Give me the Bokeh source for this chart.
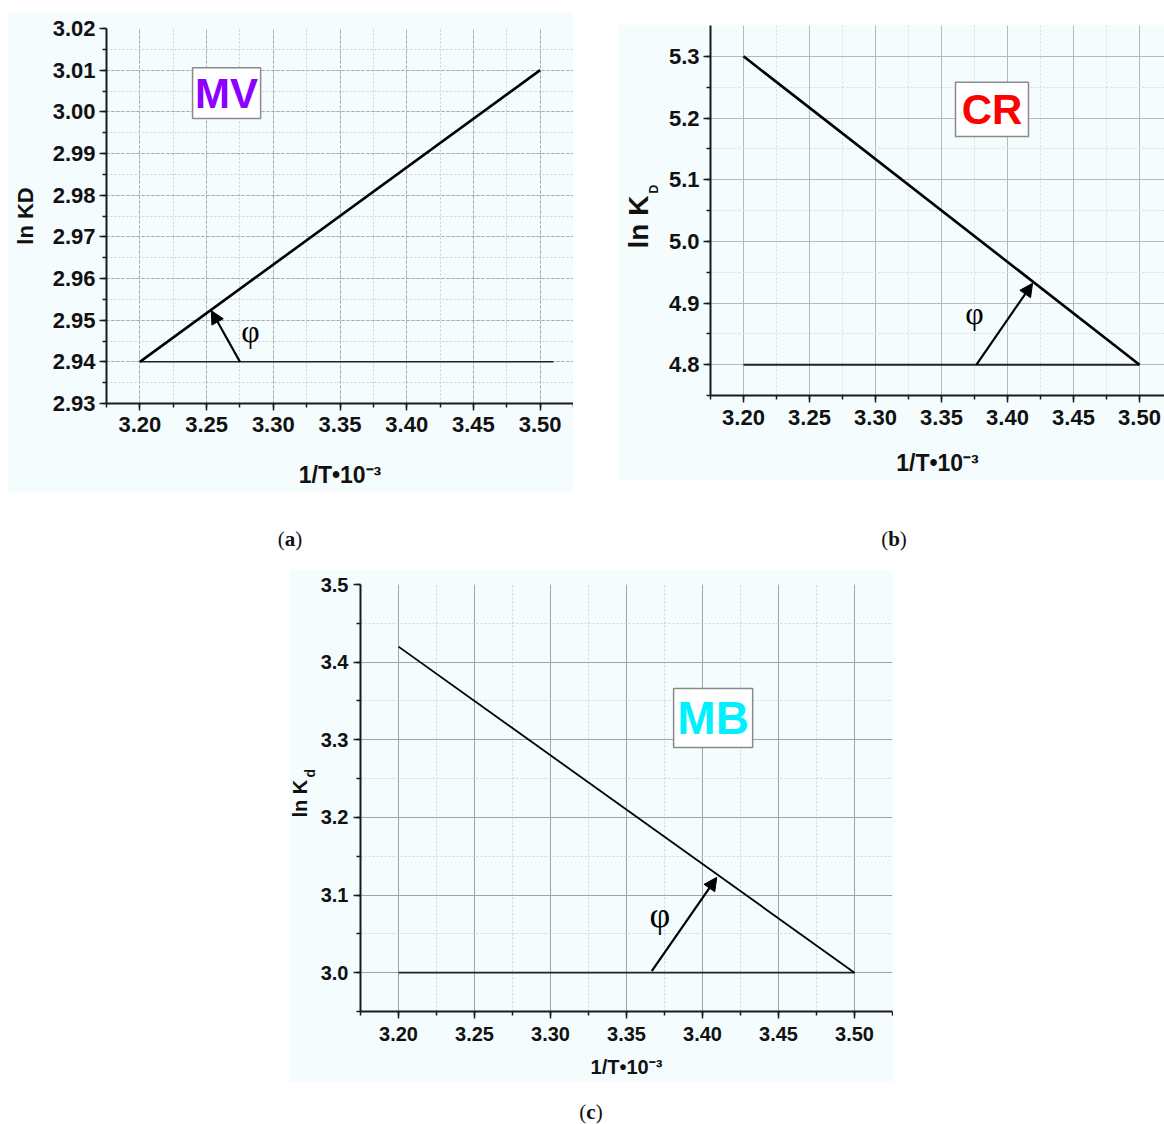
import math
from bokeh.plotting import figure
from bokeh.models import (Range1d, SingleIntervalTicker, NumeralTickFormatter, Title,
                          Arrow, NormalHead, Div, Spacer)
from bokeh.layouts import row, column
from bokeh.embed import file_html
from bokeh.resources import INLINE
from bokeh.core.properties import value

# ---------------- data ----------------
inv_T = [3.20, 3.50]                 # 1/T * 10^-3 end points
mv_lnkd = [2.94, 3.01]               # (a) MV
mv_base_x = [3.20, 3.51]
mv_base_y = [2.94, 2.94]
cr_lnkd = [5.30, 4.80]               # (b) CR
cr_base_x = [3.20, 3.50]
cr_base_y = [4.80, 4.80]
mb_lnkd = [3.42, 3.00]               # (c) MB
mb_base_x = [3.20, 3.50]
mb_base_y = [3.00, 3.00]

BG = "#f4fcfe"
SANS = "Liberation Sans"
SERIF = "Liberation Serif"


def make_panel(c):
    L, R, T, B = c["frame"]
    ox, oy = c["origin"]
    W, H = c["size"]
    x0, x1 = c["xr"]
    y0, y1 = c["yr"]

    p = figure(width=W, height=H, x_range=Range1d(x0, x1), y_range=Range1d(y0, y1),
               output_backend="svg", toolbar_location=None,
               min_border_left=L - ox, min_border_right=ox + W - R,
               min_border_top=T - oy, min_border_bottom=oy + H - B)
    p.background_fill_color = BG
    p.border_fill_color = BG
    p.outline_line_color = None

    p.xaxis.ticker = SingleIntervalTicker(interval=0.05, num_minor_ticks=2)
    p.yaxis.ticker = SingleIntervalTicker(interval=c["ystep"], num_minor_ticks=2)
    p.xaxis.formatter = NumeralTickFormatter(format="0.00")
    p.yaxis.formatter = NumeralTickFormatter(format=c["yfmt"])
    for ax in (p.xaxis, p.yaxis):
        ax.axis_line_width = 2
        ax.axis_line_color = "#1a1a1a"
        ax.major_tick_line_color = "#1a1a1a"
        ax.minor_tick_line_color = "#1a1a1a"
        ax.major_tick_line_width = 1.5
        ax.minor_tick_line_width = 1.5
        ax.major_tick_in = 0
        ax.major_tick_out = 7
        ax.minor_tick_in = 0
        ax.minor_tick_out = 4
        ax.major_label_text_font = SANS
        ax.major_label_text_font_style = "bold"
        ax.major_label_text_font_size = c["tick_fs"]
        ax.major_label_text_color = "#111111"
        ax.axis_label_text_font = SANS
        ax.axis_label_text_font_style = "bold"
        ax.axis_label_text_color = "#111111"
    p.xaxis.major_label_standoff = c["xstand"]
    p.yaxis.major_label_standoff = c["ystand"]

    p.xaxis.axis_label = c["xlabel"]
    p.xaxis.axis_label_text_font_size = c["xlab_fs"]
    p.xaxis.axis_label_standoff = c["xlab_so"]
    if c["ylabel"]:
        p.yaxis.axis_label = c["ylabel"]
        p.yaxis.axis_label_text_font_size = c["ylab_fs"]
        p.yaxis.axis_label_standoff = c["ylab_so"]

    # y-label pieces as side titles (inner first); offset measured up from frame bottom
    for (txt, fs, off, so) in c["ytitles"]:
        p.add_layout(Title(text=txt, align="left", offset=off, standoff=so,
                           text_font=SANS, text_font_style="bold", text_font_size=fs,
                           text_color="#111111"), "left")

    for g in (p.xgrid, p.ygrid):
        g.grid_line_color = c["grid_col"]
        g.grid_line_width = 1
        g.grid_line_dash = c["grid_dash"]
        g.minor_grid_line_color = c["mgrid_col"]
        g.minor_grid_line_width = 1
        g.minor_grid_line_dash = c["mgrid_dash"]

    # lines
    p.line(c["base_x"], c["base_y"], line_color="#222222", line_width=c["base_w"])
    p.line(inv_T, c["series"], line_color="#000000", line_width=c["main_w"])

    # arrow
    ax_, ay_, bx_, by_ = c["arrow"]
    p.add_layout(Arrow(x_start=ax_, y_start=ay_, x_end=bx_, y_end=by_,
                       line_width=2.2, line_color="black",
                       end=NormalHead(size=13, fill_color="black", line_color="black",
                                      line_width=1)))
    fx, fy = c["phi"]
    p.text(x=[fx], y=[fy], text=["\u03c6"], text_font=value(SERIF),
           text_font_size=c["phi_fs"], text_color="black",
           text_align="center", text_baseline="middle")

    # name box
    bl, br, bb, bt = c["box"]
    p.quad(left=[bl], right=[br], bottom=[bb], top=[bt], fill_color="white",
           line_color="#8a8a8a", line_width=1.5)
    p.text(x=[(bl + br) / 2], y=[(bb + bt) / 2], text=[c["name"]], text_font=value(SANS),
           text_font_style="bold", text_font_size=c["name_fs"], text_color=c["name_col"],
           text_align="center", text_baseline="middle")
    return p


SUP = "1/T\u202210\u207b\u00b3"

cfg_a = dict(origin=(7, 12), size=(566, 480), frame=(106, 573, 28, 403),
             xr=(3.175, 3.525), yr=(2.93, 3.02), ystep=0.01, yfmt="0.00",
             tick_fs="22px", xstand=6, ystand=4,
             xlabel=SUP, xlab_fs="23px", xlab_so=27,
             ylabel="ln KD", ylab_fs="22px", ylab_so=12, ytitles=[],
             grid_col="#a8a8a8", grid_dash="3 2", mgrid_col="#cfcfcf", mgrid_dash="2 2",
             base_x=mv_base_x, base_y=mv_base_y, series=mv_lnkd, base_w=1.5, main_w=2.6,
             arrow=(3.275, 2.94, 3.2535, 2.9523), phi=(3.283, 2.9475), phi_fs="32px",
             box=(3.2395, 3.2905, 2.9984, 3.0106), name="MV", name_fs="42px",
             name_col="#8b00ff")

cfg_b = dict(origin=(618, 24), size=(546, 456), frame=(710, 1164, 25, 395),
             xr=(3.175, 3.175 + 454 / 1320), yr=(4.75, 5.35), ystep=0.1, yfmt="0.0",
             tick_fs="22px", xstand=7, ystand=4,
             xlabel=SUP, xlab_fs="23px", xlab_so=22,
             ylabel=None, ylab_fs=None, ylab_so=None,
             ytitles=[("D", "12px", 202, 10), ("ln K", "28px", 147, -28)],
             grid_col="#b8b8b8", grid_dash="solid", mgrid_col="#dadada", mgrid_dash="2 2",
             base_x=cr_base_x, base_y=cr_base_y, series=cr_lnkd, base_w=2.0, main_w=2.6,
             arrow=(3.3765, 4.80, 3.419, 4.932), phi=(3.375, 4.884), phi_fs="32px",
             box=(3.3606, 3.4159, 5.170, 5.258), name="CR", name_fs="42px",
             name_col="#ff0000")

cfg_c = dict(origin=(289, 570), size=(604, 512), frame=(360, 892, 584, 1011),
             xr=(3.175, 3.525), yr=(2.95, 3.5), ystep=0.1, yfmt="0.0",
             tick_fs="20px", xstand=8, ystand=5,
             xlabel=SUP, xlab_fs="20px", xlab_so=12,
             ylabel=None, ylab_fs=None, ylab_so=None,
             ytitles=[("d", "14px", 234, 0), ("ln K", "20px", 194, -22)],
             grid_col="#a4a4a4", grid_dash="solid", mgrid_col="#d4d4d4", mgrid_dash="2 2",
             base_x=mb_base_x, base_y=mb_base_y, series=mb_lnkd, base_w=1.8, main_w=1.8,
             arrow=(3.3666, 3.002, 3.4094, 3.1228), phi=(3.372, 3.074), phi_fs="36px",
             box=(3.381, 3.433, 3.290, 3.366), name="MB", name_fs="46px",
             name_col="#00f0ff")

pa = make_panel(cfg_a)
pb = make_panel(cfg_b)
pc = make_panel(cfg_c)

cap_style = {"font-family": SERIF, "font-size": "21px", "text-align": "center",
             "line-height": "26px", "color": "#111111"}


def cap(letter):
    return Div(text="(<b>%s</b>)" % letter, width=100, height=26, margin=0, styles=cap_style)


top_row = row(Spacer(width=7, height=10), column(Spacer(width=10, height=12), pa),
              Spacer(width=45, height=10), column(Spacer(width=10, height=24), pb))
cap_row = column(Spacer(width=10, height=34),
                 row(Spacer(width=240, height=10), cap("a"), Spacer(width=504, height=10), cap("b")),
                 Spacer(width=10, height=18))
bot_row = row(Spacer(width=289, height=10), pc)
cap_c = column(Spacer(width=10, height=17), row(Spacer(width=541, height=10), cap("c")))

layout = column(top_row, cap_row, bot_row, cap_c)

with open("out.html", "w") as f:
    f.write(file_html(layout, INLINE))
